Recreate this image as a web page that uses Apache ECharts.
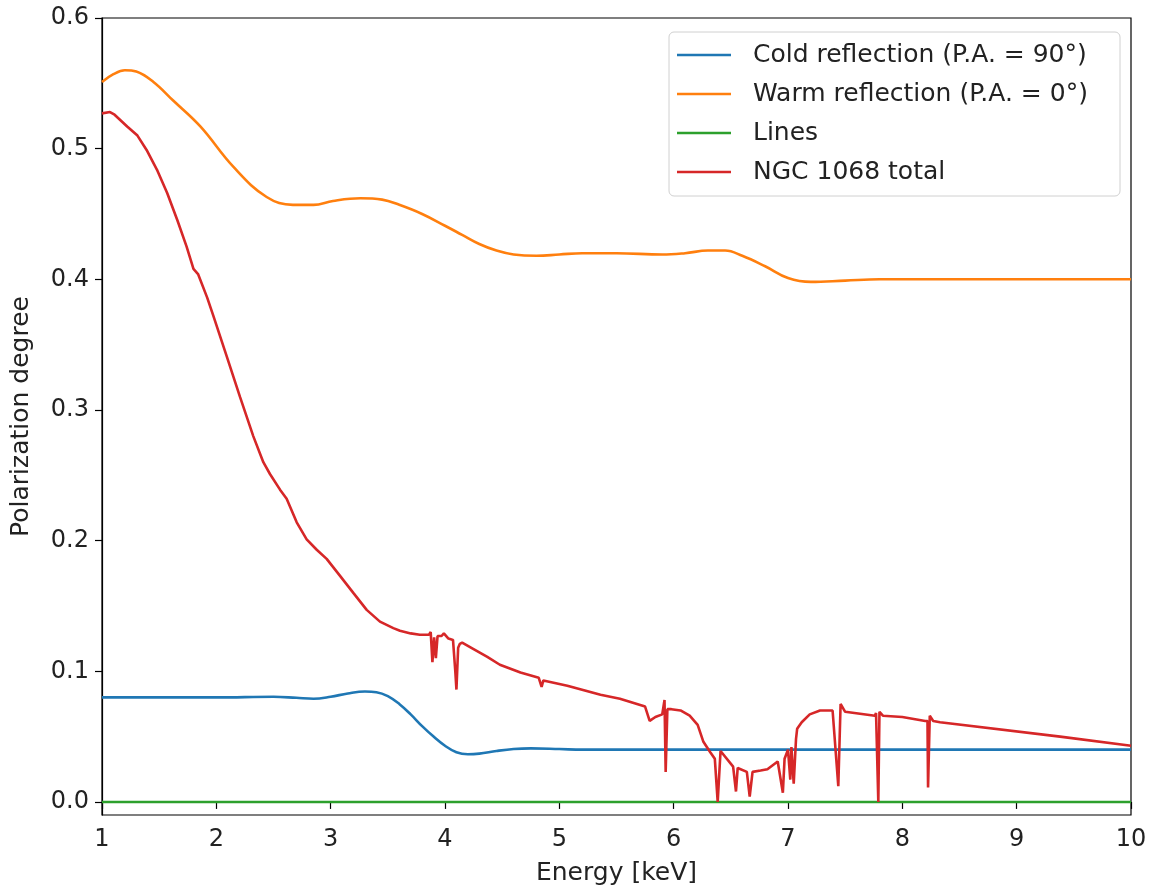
<!DOCTYPE html>
<html>
<head>
<meta charset="utf-8">
<script src="https://cdn.jsdelivr.net/npm/echarts@6/dist/echarts.min.js"></script>
<style>
  html, body { margin: 0; padding: 0; background: #fff; overflow: hidden; }
  #chart { width: 1152px; height: 888px; }
</style>
</head>
<body>
<div id="chart"></div>
<script>
// Polarization degree versus energy for the NGC 1068 model components

const yTicks = [0.0, 0.1, 0.2, 0.3, 0.4, 0.5, 0.6];

// Cold reflection (P.A. = 90°)
const coldEnergy = [1.0, 1.5, 2.0, 2.5, 2.7, 2.85, 3.0, 3.15, 3.3, 3.4, 3.5, 3.6, 3.7, 3.8, 3.9, 4.0, 4.1, 4.2, 4.3, 4.45, 4.6, 4.75, 5.0, 5.2, 6.0, 7.0, 8.0, 9.0, 10.0];
const coldPol    = [0.080, 0.080, 0.080, 0.0805, 0.0797, 0.079, 0.0805, 0.083, 0.0845, 0.084, 0.081, 0.075, 0.067, 0.058, 0.050, 0.043, 0.038, 0.0365, 0.037, 0.039, 0.0405, 0.041, 0.0405, 0.040, 0.040, 0.040, 0.040, 0.040, 0.040];

// Warm reflection (P.A. = 0°)
const warmEnergy = [1.0, 1.1, 1.2, 1.3, 1.45, 1.62, 1.86, 2.15, 2.44, 2.67, 2.85, 3.02, 3.26, 3.45, 3.6, 3.8, 4.0, 4.15, 4.3, 4.45, 4.6, 4.8, 5.0, 5.2, 5.5, 5.9, 6.1, 6.3, 6.45, 6.6, 6.8, 7.0, 7.2, 7.5, 7.8, 8.0, 8.5, 9.0, 10.0];
const warmPol    = [0.551, 0.557, 0.560, 0.559, 0.551, 0.537, 0.517, 0.486, 0.463, 0.457, 0.457, 0.460, 0.462, 0.461, 0.457, 0.450, 0.441, 0.434, 0.427, 0.422, 0.419, 0.418, 0.419, 0.420, 0.420, 0.419, 0.420, 0.422, 0.422, 0.418, 0.410, 0.401, 0.398, 0.399, 0.400, 0.400, 0.400, 0.400, 0.400];

// Lines
const lineEnergy = [1.0, 10.0];
const linePol    = [0.0, 0.0];

// NGC 1068 total
const totalEnergy = [
  1.0, 1.07, 1.11, 1.22, 1.31, 1.39, 1.48, 1.57, 1.66, 1.74, 1.80, 1.84, 1.857, 1.92, 1.974,
  2.091, 2.207, 2.323, 2.411, 2.469, 2.557, 2.615, 2.703, 2.790, 2.878, 2.965, 3.082, 3.198, 3.315,
  3.431, 3.548, 3.606, 3.70, 3.78, 3.86,
  3.875, 3.89, 3.905, 3.92, 3.935, 3.97, 3.99, 4.03, 4.07, 4.09, 4.10, 4.115, 4.13, 4.15,
  4.25, 4.37, 4.48, 4.66, 4.82, 4.845, 4.86, 5.07, 5.36, 5.53, 5.75, 5.79, 5.84, 5.90,
  5.92, 5.93, 5.945, 5.98, 6.06, 6.14, 6.21, 6.26, 6.32, 6.36, 6.385, 6.41, 6.52, 6.545,
  6.56, 6.64, 6.665, 6.69, 6.76, 6.82, 6.91, 6.955, 6.97, 7.00, 7.02, 7.03, 7.05, 7.07,
  7.08, 7.12, 7.19, 7.28, 7.39, 7.44, 7.46, 7.50, 7.76, 7.77, 7.79, 7.80, 7.83, 8.0, 8.2,
  8.22, 8.225, 8.24, 8.27, 8.33, 9.38, 10.0
];
const totalPol = [
  0.527, 0.528, 0.526, 0.517, 0.510, 0.499, 0.484, 0.466, 0.445, 0.425, 0.408, 0.404, 0.403, 0.386, 0.372,
  0.341, 0.310, 0.280, 0.260, 0.251, 0.239, 0.232, 0.214, 0.201, 0.193, 0.186, 0.173, 0.160, 0.147,
  0.138, 0.133, 0.131, 0.129, 0.128, 0.128,
  0.130, 0.107, 0.126, 0.110, 0.127, 0.127, 0.129, 0.125, 0.124, 0.100, 0.086, 0.118, 0.121, 0.122,
  0.117, 0.111, 0.105, 0.099, 0.095, 0.088, 0.093, 0.089, 0.082, 0.079, 0.073, 0.062, 0.065, 0.067,
  0.078, 0.023, 0.071, 0.071, 0.070, 0.066, 0.059, 0.046, 0.038, 0.033, 0.000, 0.039, 0.027, 0.008,
  0.026, 0.023, 0.004, 0.023, 0.024, 0.025, 0.031, 0.007, 0.033, 0.040, 0.017, 0.042, 0.014, 0.048,
  0.056, 0.061, 0.067, 0.070, 0.070, 0.012, 0.075, 0.069, 0.066, 0.068, 0.000, 0.069, 0.066, 0.065, 0.062,
  0.062, 0.011, 0.066, 0.062, 0.061, 0.050, 0.043
];

const pairs = (xs, ys) => xs.map((x, i) => [x, ys[i]]);

const FONT = 'DejaVu Sans';
const TEXT = '#222';

const chart = echarts.init(document.getElementById('chart'), null, { renderer: 'canvas' });

const lineSeries = (name, color, data, smooth) => ({
  name: name,
  type: 'line',
  data: data,
  symbol: 'none',
  smooth: smooth,
  lineStyle: { color: color, width: 2.6 },
  itemStyle: { color: color },
  emphasis: { disabled: true },
  animation: false
});

chart.setOption({
  animation: false,
  backgroundColor: '#fff',
  textStyle: { fontFamily: FONT, color: TEXT },
  grid: {
    left: 102, right: 21, top: 18, bottom: 73,
    containLabel: false,
    outerBoundsMode: 'none',
    show: true, borderColor: '#000', borderWidth: 1.2, backgroundColor: 'transparent'
  },
  legend: {
    orient: 'vertical',
    right: 32, top: 32,
    icon: 'rect',
    itemWidth: 54, itemHeight: 2.5,
    itemGap: 11,
    padding: [9, 16, 10, 8],
    backgroundColor: '#fff',
    borderColor: '#d0d0d0', borderWidth: 1, borderRadius: 5,
    textStyle: { fontFamily: FONT, fontSize: 25, color: TEXT, padding: [0, 0, 0, 17], lineHeight: 28, width: 351 },
    data: ['Cold reflection (P.A. = 90°)', 'Warm reflection (P.A. = 0°)', 'Lines', 'NGC 1068 total']
  },
  xAxis: {
    type: 'value',
    min: 1, max: 10, interval: 1,
    name: 'Energy [keV]',
    nameLocation: 'middle',
    nameGap: 46,
    nameTextStyle: { fontFamily: FONT, fontSize: 25, color: TEXT },
    axisLine: { show: true, lineStyle: { color: '#000', width: 1.2 } },
    axisTick: { show: true, inside: false, length: 7, lineStyle: { color: '#000', width: 1.2 } },
    axisLabel: { fontFamily: FONT, fontSize: 24, color: TEXT, margin: 13, showMinLabel: true, showMaxLabel: true },
    splitLine: { show: false }
  },
  yAxis: {
    type: 'value',
    min: -0.01, max: 0.6,
    name: 'Polarization degree',
    nameLocation: 'middle',
    nameGap: 68,
    nameRotate: 90,
    nameTextStyle: { fontFamily: FONT, fontSize: 25, color: TEXT },
    axisLine: { show: true, lineStyle: { color: '#000', width: 1.2 } },
    axisTick: { show: true, inside: false, length: 7, customValues: yTicks, lineStyle: { color: '#000', width: 1.2 } },
    axisLabel: {
      fontFamily: FONT, fontSize: 24, color: TEXT, margin: 13,
      customValues: yTicks,
      formatter: v => Number(v).toFixed(1)
    },
    splitLine: { show: false }
  },
  series: [
    lineSeries('Cold reflection (P.A. = 90°)', '#1f77b4', pairs(coldEnergy, coldPol), 0.4),
    lineSeries('Warm reflection (P.A. = 0°)', '#ff7f0e', pairs(warmEnergy, warmPol), 0.4),
    lineSeries('Lines', '#2ca02c', pairs(lineEnergy, linePol), false),
    lineSeries('NGC 1068 total', '#d62728', pairs(totalEnergy, totalPol), false)
  ]
});
</script>
</body>
</html>
